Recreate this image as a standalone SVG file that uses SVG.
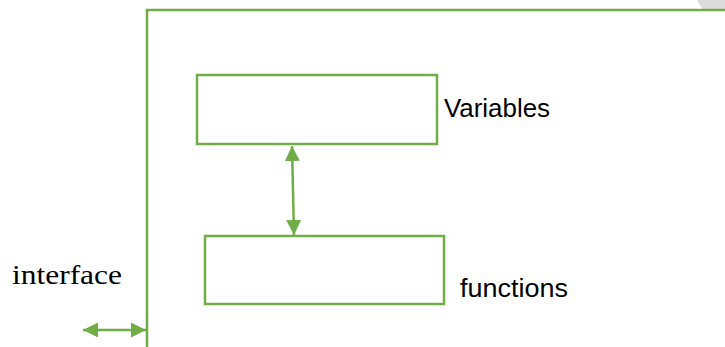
<svg xmlns="http://www.w3.org/2000/svg" width="725" height="347" viewBox="0 0 725 347">
<defs>
<style>
.g{fill:none;stroke:#70AD47;stroke-width:2.5}
.ln{fill:none;stroke:#70AD47;stroke-width:2.5}
.lbl{font-family:"Liberation Sans",Arial,sans-serif;font-size:25px;fill:#000}
.ser{font-family:"Liberation Serif","Times New Roman",serif;font-size:28px;fill:#000}
</style>
<marker id="ah" viewBox="0 0 10 10" refX="10" refY="5" markerWidth="6" markerHeight="6" orient="auto-start-reverse" markerUnits="strokeWidth">
<path d="M0,0 L10,5 L0,10 z" fill="#70AD47"/>
</marker>
</defs>
<rect x="0" y="0" width="725" height="347" fill="#fff"/>
<polygon points="697,0 725,0 725,10 703,10" fill="#dcdcdc"/>
<g id="frame">
<polyline class="g" points="147,347 147,10 725,10"/>
</g>
<g id="variables">
<rect class="g" x="197" y="75" width="240" height="69"/>
<text class="lbl" x="444" y="117" textLength="106" lengthAdjust="spacingAndGlyphs">Variables</text>
</g>
<g id="functions">
<rect class="g" x="205" y="236" width="239" height="68"/>
<text class="lbl" x="460" y="297" textLength="108" lengthAdjust="spacingAndGlyphs">functions</text>
</g>
<g id="interface">
<text class="ser" x="12" y="284" textLength="110" lengthAdjust="spacingAndGlyphs">interface</text>
</g>
<g id="connectors">
<line class="ln" x1="292" y1="146" x2="294" y2="235" marker-start="url(#ah)" marker-end="url(#ah)"/>
<line class="ln" x1="83" y1="330" x2="146" y2="330" marker-start="url(#ah)" marker-end="url(#ah)"/>
</g>
</svg>
